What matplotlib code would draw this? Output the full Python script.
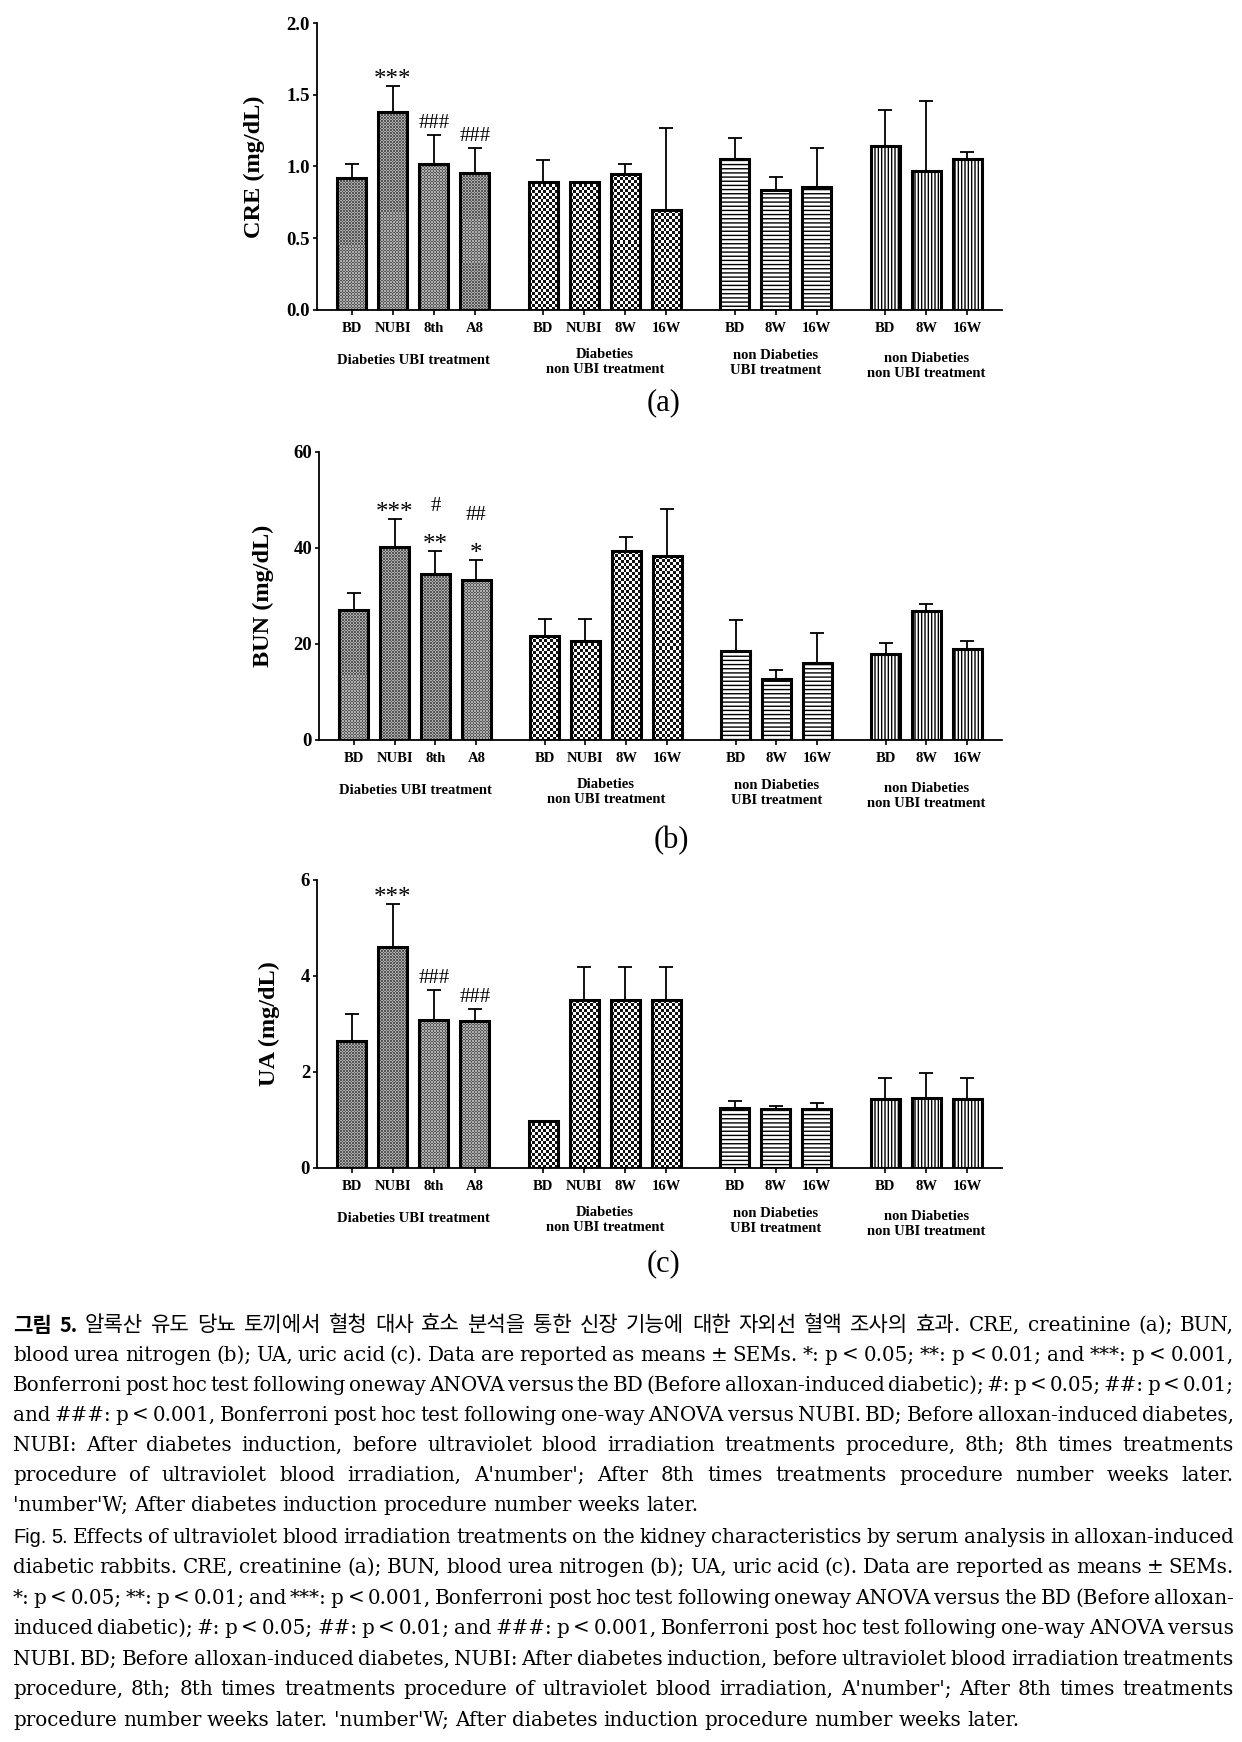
import numpy as np
import matplotlib
matplotlib.use('Agg')
import matplotlib.pyplot as plt
from matplotlib import transforms
from matplotlib.colors import ListedColormap

# ---- data ----
tick_labels = ['BD', 'NUBI', '8th', 'A8', 'BD', 'NUBI', '8W', '16W',
               'BD', '8W', '16W', 'BD', '8W', '16W']
group_names = ['Diabeties UBI treatment', 'Diabeties\nnon UBI treatment',
               'non Diabeties\nUBI treatment', 'non Diabeties\nnon UBI treatment']
group_sizes = [4, 4, 3, 3]

cre_mean = [0.923, 1.38, 1.02, 0.956, 0.893, 0.893, 0.947, 0.696,
            1.053, 0.833, 0.858, 1.146, 0.972, 1.049]
cre_sem = [0.093, 0.18, 0.20, 0.17, 0.15, 0.0, 0.07, 0.57,
           0.145, 0.093, 0.27, 0.246, 0.485, 0.055]

bun_mean = [27.0, 40.3, 34.6, 33.3, 21.6, 20.7, 39.3, 38.3,
            18.5, 12.7, 16.0, 18.0, 26.8, 18.9]
bun_sem = [3.7, 5.8, 4.8, 4.1, 3.7, 4.5, 3.0, 9.8,
           6.4, 1.9, 6.3, 2.3, 1.6, 1.8]

ua_mean = [2.65, 4.60, 3.08, 3.06, 0.98, 3.49, 3.49, 3.49,
           1.26, 1.23, 1.23, 1.44, 1.45, 1.44]
ua_sem = [0.56, 0.91, 0.63, 0.25, 0.0, 0.70, 0.70, 0.70,
          0.14, 0.06, 0.13, 0.44, 0.52, 0.44]

# significance marks, stacked bottom -> top, keyed by bar index
cre_marks = {1: ['***'], 2: ['###'], 3: ['###']}
bun_marks = {1: ['***'], 2: ['**', '#'], 3: ['*', '##']}
ua_marks = {1: ['***'], 2: ['###'], 3: ['###']}

cn_lines = [
    "그림 5. 알록산 유도 당뇨 토끼에서 혈청 대사 효소 분석을 통한 신장 기능에 대한 자외선 혈액 조사의 효과. CRE, creatinine (a); BUN,",
    "blood urea nitrogen (b); UA, uric acid (c). Data are reported as means ± SEMs. *: p < 0.05; **: p < 0.01; and ***: p < 0.001,",
    "Bonferroni post hoc test following oneway ANOVA versus the BD (Before alloxan-induced diabetic); #: p < 0.05; ##: p < 0.01;",
    "and ###: p < 0.001, Bonferroni post hoc test following one-way ANOVA versus NUBI. BD; Before alloxan-induced diabetes,",
    "NUBI: After diabetes induction, before ultraviolet blood irradiation treatments procedure, 8th; 8th times treatments",
    "procedure of ultraviolet blood irradiation, A'number'; After 8th times treatments procedure number weeks later.",
    "'number'W; After diabetes induction procedure number weeks later.",
]
en_lines = [
    "Fig. 5. Effects of ultraviolet blood irradiation treatments on the kidney characteristics by serum analysis in alloxan-induced",
    "diabetic rabbits. CRE, creatinine (a); BUN, blood urea nitrogen (b); UA, uric acid (c). Data are reported as means ± SEMs.",
    "*: p < 0.05; **: p < 0.01; and ***: p < 0.001, Bonferroni post hoc test following oneway ANOVA versus the BD (Before alloxan-",
    "induced diabetic); #: p < 0.05; ##: p < 0.01; and ###: p < 0.001, Bonferroni post hoc test following one-way ANOVA versus",
    "NUBI. BD; Before alloxan-induced diabetes, NUBI: After diabetes induction, before ultraviolet blood irradiation treatments",
    "procedure, 8th; 8th times treatments procedure of ultraviolet blood irradiation, A'number'; After 8th times treatments",
    "procedure number weeks later. 'number'W; After diabetes induction procedure number weeks later.",
]

W, H = 1242, 1742
SERIF = 'Liberation Serif'
fig = plt.figure(figsize=(W / 100, H / 100), dpi=100)

# bar positions: groups separated by a wider gap
pos = []
cur = 0.0
for n in group_sizes:
    pos += [cur + i for i in range(n)]
    cur += n - 1 + 1.67
pos = np.array(pos)
group_idx = np.repeat(np.arange(len(group_sizes)), group_sizes)


def px_rect(l, t, r, b):
    return [l / W, 1 - b / H, (r - l) / W, (b - t) / H]


def texture(ax, bar, cell, c0, c1):
    x0, w, h = bar.get_x(), bar.get_width(), bar.get_height()
    p0 = ax.transData.transform((x0, 0))
    p1 = ax.transData.transform((x0 + w, h))
    nx = max(1, int(round((p1[0] - p0[0]) / cell)))
    ny = max(1, int(round((p1[1] - p0[1]) / cell)))
    ii, jj = np.indices((ny, nx))
    ax.imshow((ii + jj) % 2, extent=[x0, x0 + w, 0, h], cmap=ListedColormap([c0, c1]),
              vmin=0, vmax=1, interpolation='nearest', aspect='auto', zorder=2)


panels = [
    (px_rect(317, 23, 1002, 310), cre_mean, cre_sem, cre_marks, 'CRE (mg/dL)',
     2.0, [0, 0.5, 1.0, 1.5, 2.0], '{:.1f}', -0.076, '(a)', (664, 403)),
    (px_rect(319, 452, 1002, 740), bun_mean, bun_sem, bun_marks, 'BUN (mg/dL)',
     60, [0, 20, 40, 60], '{:d}', -0.066, '(b)', (671, 841)),
    (px_rect(317, 880, 1002, 1168), ua_mean, ua_sem, ua_marks, 'UA (mg/dL)',
     6, [0, 2, 4, 6], '{:d}', -0.054, '(c)', (664, 1264)),
]

group_label_drop = [51, 52, 53, 56]  # px below the axis line

for rect, mean, sem, marks, ylab, ymax, yt, fmt, labx, tag, tagpos in panels:
    ax = fig.add_axes(rect)
    ax.set_xlim(-0.85, 15.86)
    ax.set_ylim(0, ymax)
    for s in ['top', 'right']:
        ax.spines[s].set_visible(False)
    for s in ['left', 'bottom']:
        ax.spines[s].set_linewidth(1.3)

    for i in range(len(pos)):
        g = group_idx[i]
        if g < 2:
            b = ax.bar(pos[i], mean[i], 0.70, facecolor='none', edgecolor='black',
                       linewidth=2.2, zorder=3)[0]
            if g == 0:
                texture(ax, b, 1.5, '#555555', '#b0b0b0')
            else:
                texture(ax, b, 3.0, '#111111', '#ffffff')
        else:
            ax.bar(pos[i], mean[i], 0.70, facecolor='white', edgecolor='black',
                   linewidth=2.2, hatch='----' if g == 2 else '|||||', zorder=3)
    ax.set_xlim(-0.85, 15.86)
    ax.set_ylim(0, ymax)

    ax.errorbar(pos, mean, yerr=[np.zeros(len(sem)), sem], fmt='none', ecolor='black',
                elinewidth=1.3, capsize=5.3, capthick=1.3, zorder=4)

    for i, ms in marks.items():
        top = mean[i] + sem[i]
        for k, m in enumerate(ms):
            star = '*' in m
            off = (0 if star else 5) + 24 * k
            ax.annotate(m, xy=(pos[i], top), xytext=(0, off), textcoords='offset points',
                        ha='center', va='baseline', fontsize=18 if star else 15,
                        family=SERIF)

    ax.set_xticks(pos)
    ax.set_xticklabels(tick_labels, fontsize=10.5, fontweight='bold', family=SERIF)
    ax.tick_params(axis='x', direction='out', length=3.5, width=1.2, pad=5.5)
    ax.set_yticks(yt)
    ax.set_yticklabels([fmt.format(v) for v in yt], fontsize=13.5, fontweight='bold',
                       family=SERIF)
    ax.tick_params(axis='y', direction='out', length=3, width=1.2, pad=2)
    ax.set_ylabel(ylab, fontsize=17.5, fontweight='bold', family=SERIF)
    ax.yaxis.set_label_coords(labx, 0.5)

    ax_h = rect[3] * H
    trans = transforms.blended_transform_factory(ax.transData, ax.transAxes)
    start = 0
    for g, n in enumerate(group_sizes):
        cx = pos[start:start + n].mean()
        ax.text(cx, -group_label_drop[g] / ax_h, group_names[g], transform=trans,
                ha='center', va='center', fontsize=10.5, fontweight='bold',
                family=SERIF, linespacing=1.15)
        start += n

    fig.text(tagpos[0] / W, 1 - tagpos[1] / H, tag, ha='center', va='center',
             fontsize=22, family=SERIF)

# ---- caption, justified to the column width ----
renderer = fig.canvas.get_renderer()
X0, X1 = 13, 1234
body = ['DejaVu Serif', 'Noto Sans CJK KR']


def word_style(w, first, lang):
    if first and lang == 'ko' and w in ('그림', '5.'):
        return dict(family='Noto Sans CJK KR', fontweight='bold')
    if first and lang == 'en' and w in ('Fig.', '5.'):
        return dict(family='Liberation Sans')
    return dict(family=body)


def measure(s, fs, **kw):
    t = fig.text(0, 0, s, fontsize=fs, **kw)
    w = t.get_window_extent(renderer).width
    t.remove()
    return w


# pick a size at which the tightest line still fits with narrow word gaps
fs = 16.0
need = 0
for l in cn_lines + en_lines:
    ws = l.split(' ')
    tot = sum(measure(w, fs, family=body) for w in ws) + (len(ws) - 1) * 0.16 * fs * 100 / 72
    need = max(need, tot)
fs = fs * (X1 - X0) / need


def put_line(line, y, first, lang, justify):
    words = line.split(' ')
    texts = []
    for j, w in enumerate(words):
        st = word_style(w, first and j < 2, lang)
        size = fs * 1.06 if any('\uac00' <= c <= '\ud7a3' for c in w) else fs
        texts.append(fig.text(0, 1 - y / H, w, fontsize=size, va='center', ha='left', **st))
    widths = [t.get_window_extent(renderer).width for t in texts]
    if justify and len(words) > 1:
        gap = (X1 - X0 - sum(widths)) / (len(words) - 1)
    else:
        gap = 0.3 * fs * 100 / 72
    x = X0
    for t, w in zip(texts, widths):
        t.set_x(x / W)
        x += w + gap


for k, line in enumerate(cn_lines):
    put_line(line, 1325 + 30 * k, k == 0, 'ko', k < len(cn_lines) - 1)
for k, line in enumerate(en_lines):
    put_line(line, 1537 + 30.5 * k, k == 0, 'en', k < len(en_lines) - 1)

fig.savefig('out.png', dpi=100)
